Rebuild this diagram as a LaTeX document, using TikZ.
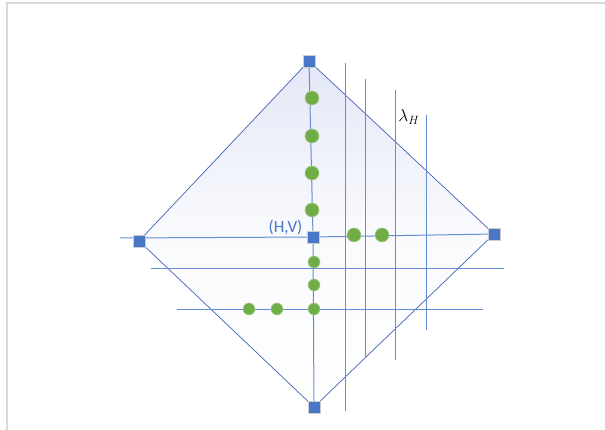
\documentclass[tikz,border=0pt]{standalone}
\usepackage{fontspec}
\newfontfamily\carlito{Carlito}
\definecolor{lblue}{RGB}{72,118,200}
\definecolor{gblue}{RGB}{100,140,215}
\definecolor{eblue}{RGB}{62,100,180}
\definecolor{dgreen}{RGB}{112,173,71}
\definecolor{lav}{RGB}{228,231,246}
\begin{document}
\begin{tikzpicture}[x=1pt,y=-1pt,
  sq/.style={rectangle,fill=lblue,draw=black!20,line width=0.8pt,minimum size=12pt,inner sep=0pt},
  dot/.style={circle,fill=dgreen,draw=dgreen!60!white,line width=0.6pt,minimum size=14pt,inner sep=0pt},
  sdot/.style={dot,minimum size=12pt},
  ln/.style={draw=gblue,line width=1pt},
  edge/.style={draw=eblue,line width=0.7pt}]
\useasboundingbox (0,0) rectangle (605,430);
\draw[black!15,line width=1.2pt] (7,430) -- (7,3) -- (605,3);
% diamond vertices
\coordinate (T) at (309,61);
\coordinate (L) at (139,241);
\coordinate (R) at (494,234);
\coordinate (B) at (314,407);
\coordinate (C) at (313,237);
\shade[top color=lav,bottom color=white,middle color=white!80!lav] (T) -- (R) -- (B) -- (L) -- cycle;
\draw[edge] (T) -- (R) -- (B) -- (L) -- cycle;
% axis lines
\coordinate (h1a) at (120,238);
\draw[ln] (h1a) -- (C) -- (R);
\draw[ln] (T) -- (C) -- (B);
\coordinate (h2a) at (151,268.5); \coordinate (h2b) at (504,268.5);
\draw[ln] (h2a) -- (h2b);
\coordinate (h3a) at (177,309.5); \coordinate (h3b) at (483,309.5);
\draw[ln] (h3a) -- (h3b);
\coordinate (v1a) at (345.5,63); \coordinate (v1b) at (345.5,411);
\coordinate (v2a) at (365.5,79); \coordinate (v2b) at (365.5,358);
\coordinate (v3a) at (395.5,90); \coordinate (v3b) at (395.5,360);
\coordinate (v4a) at (426.5,115); \coordinate (v4b) at (426.5,330);
\draw[ln] (v1a) -- (v1b);
\draw[ln] (v2a) -- (v2b);
\draw[ln] (v3a) -- (v3b);
\draw[ln] (v4a) -- (v4b);
% squares
\node[sq] (sT) at (T) {};
\node[sq] (sL) at (L) {};
\node[sq] (sR) at (R) {};
\node[sq] (sB) at (B) {};
\node[sq] (sC) at (C) {};
% dots
\node[dot] (d1) at (312,98) {};
\node[dot] (d2) at (312,136) {};
\node[dot] (d3) at (312,173) {};
\node[dot] (d4) at (312,210) {};
\node[dot] (d5) at (354,235) {};
\node[dot] (d6) at (382,235) {};
\node[sdot] (d7) at (314,262) {};
\node[sdot] (d8) at (314,285) {};
\node[sdot] (d9) at (314,309) {};
\node[sdot] (d10) at (277,309) {};
\node[sdot] (d11) at (249,309) {};
% labels
\node[text=lblue,font=\carlito\fontsize{17}{19}\selectfont,inner sep=0pt] (hv) at (285.5,227.5) {(H,V)};
\node[font=\fontsize{17}{19}\selectfont,inner sep=0pt] (lam) at (409,117) {$\lambda_H$};
\end{tikzpicture}
\end{document}
